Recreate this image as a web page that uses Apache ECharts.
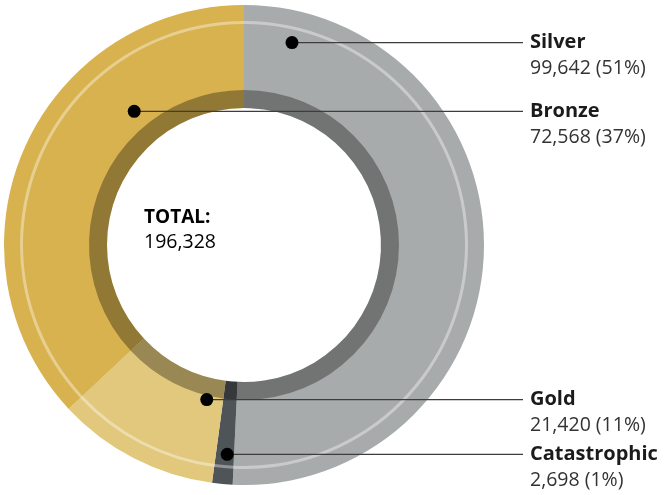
<!DOCTYPE html>
<html>
<head>
<meta charset="utf-8">
<script src="https://cdn.jsdelivr.net/npm/echarts@6/dist/echarts.min.js"></script>
<style>
  html, body { margin: 0; padding: 0; background: #fff; }
  #chart { width: 664px; height: 495px; }
</style>
</head>
<body>
<div id="chart"></div>
<script>
// Claim counts by tier, in clockwise order starting at 12 o'clock
const categories = ['Silver', 'Catastrophic', 'Gold', 'Bronze'];
const values = [99642, 2698, 21420, 72568];
const totalLabel = 'TOTAL:';

// Styling
const sliceColors = ['#A8ABAC', '#4F5458', '#E2C87C', '#D8B24F'];
const FONT = '"Open Sans", "Noto Sans", sans-serif';
const CX = 244, CY = 245, R_IN = 137, R_OUT = 240;
// Where each callout dot sits: fraction along its slice, distance from centre
const anchors = [
  { frac: 0.073, r: 208 },
  { frac: 0.38, r: 210 },
  { frac: 0.15, r: 159 },
  { frac: 0.704, r: 173 }
];
const LINE_END_X = 523, TEXT_X = 530;

const total = values.reduce((a, b) => a + b, 0);
const fmt = n => n.toLocaleString('en-US');

// Angle (degrees clockwise from top) of each slice's start
const starts = [];
let acc = 0;
values.forEach(v => { starts.push(acc / total * 360); acc += v; });

const dots = values.map((v, i) => {
  const span = v / total * 360;
  const a = (starts[i] + anchors[i].frac * span) * Math.PI / 180;
  return [CX + anchors[i].r * Math.sin(a), CY - anchors[i].r * Math.cos(a)];
});

const data = categories.map((c, i) => ({ name: c, value: values[i], itemStyle: { color: sliceColors[i] } }));
const plain = categories.map((c, i) => ({ name: c, value: values[i] }));

const nameStyle = { fontFamily: FONT, fontSize: 20, fontWeight: 'bold', color: '#1b1b1b', lineHeight: 26 };
const valueStyle = { fontFamily: FONT, fontSize: 19.5, color: '#333333', lineHeight: 26 };

const chart = echarts.init(document.getElementById('chart'), null, { renderer: 'canvas' });

chart.setOption({
  animation: false,
  series: [
    {
      type: 'pie', center: [CX, CY], radius: [R_IN, R_OUT], startAngle: 90,
      silent: true, label: { show: false }, labelLine: { show: false },
      itemStyle: { borderWidth: 0 }, data: data, z: 1
    },
    {
      // darker inner band
      type: 'pie', center: [CX, CY], radius: [R_IN, 155], startAngle: 90,
      silent: true, label: { show: false }, labelLine: { show: false },
      itemStyle: { color: 'rgba(0,0,0,0.32)', borderWidth: 0 }, data: plain, z: 2
    },
    {
      // thin highlight ring near the outer edge
      type: 'pie', center: [CX, CY], radius: [221, 224], startAngle: 90,
      silent: true, label: { show: false }, labelLine: { show: false },
      itemStyle: { color: 'rgba(255,255,255,0.38)', borderWidth: 0 }, data: plain, z: 2
    },
    {
      // callout labels
      type: 'pie', center: [CX, CY], radius: [R_IN, R_OUT], startAngle: 90,
      silent: true, z: 5, avoidLabelOverlap: false,
      itemStyle: { color: 'rgba(0,0,0,0)', borderWidth: 0 },
      data: plain,
      label: {
        show: true, position: 'outside', overflow: 'none', width: 200,
        formatter: p => '{n|' + p.name + '}\n{v|' + fmt(p.value) + ' (' + Math.round(p.value / total * 100) + '%)}',
        rich: { n: nameStyle, v: valueStyle }
      },
      labelLine: { show: true, lineStyle: { color: '#3d3d3d', width: 1.3 } },
      labelLayout: function (p) {
        const d = dots[p.dataIndex];
        return {
          x: TEXT_X, y: d[1] - 13, align: 'left', verticalAlign: 'top',
          moveOverlap: null, hideOverlap: false,
          labelLinePoints: [[d[0], d[1]], [d[0], d[1]], [LINE_END_X, d[1]]]
        };
      }
    }
  ],
  graphic: {
    elements: dots.map(d => ({
      type: 'circle', shape: { cx: d[0], cy: d[1], r: 6.5 },
      style: { fill: '#000' }, z: 100
    })).concat([{
      type: 'text', left: 144, top: 208, z: 100,
      style: {
        text: '{n|' + totalLabel + '}\n{v|' + fmt(total) + '}',
        rich: {
          n: Object.assign({}, nameStyle, { fontSize: 19, lineHeight: 25 }),
          v: Object.assign({}, valueStyle, { lineHeight: 25 })
        }
      }
    }])
  }
});
</script>
</body>
</html>
